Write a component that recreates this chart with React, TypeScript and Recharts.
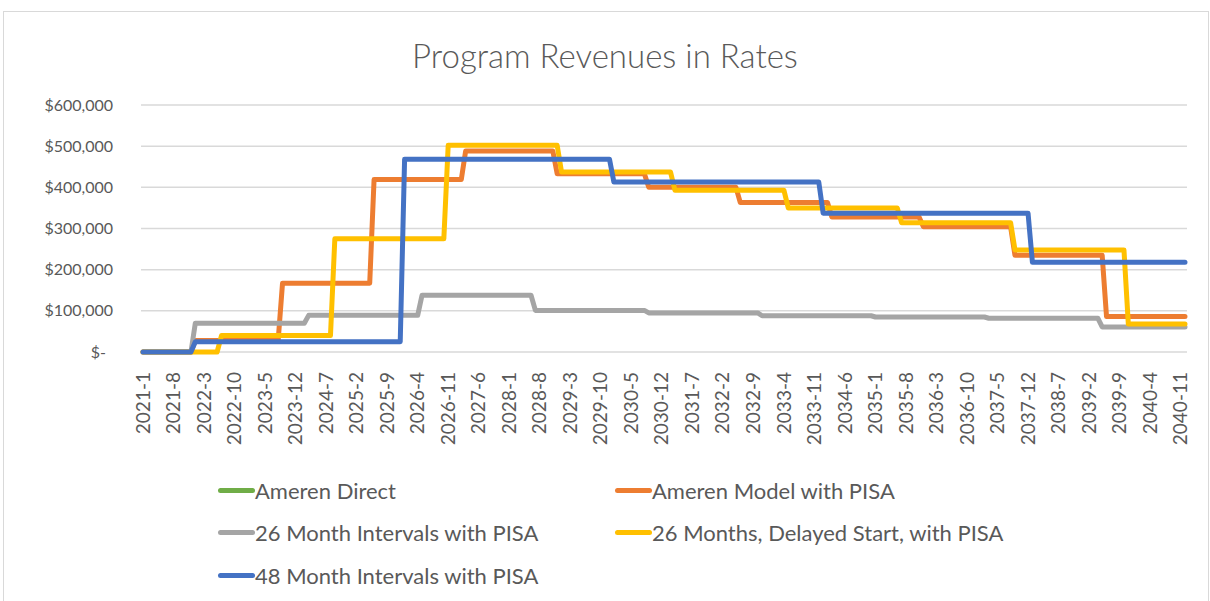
import { LineChart, Line, XAxis, YAxis, CartesianGrid } from 'recharts';

// month labels, 2021-1 .. 2040-12
const months: string[] = [];
for (let y = 2021; y <= 2040; y++) {
  for (let m = 1; m <= 12; m++) months.push(`${y}-${m}`);
}

const yTicks = [0, 100000, 200000, 300000, 400000, 500000, 600000];

// each series is a step: month index where a level starts, and the level
const amerenDirectStart: number[] = [];
const amerenDirectValue: number[] = [];

const amerenModelStart = [0, 12, 32, 53, 74, 95, 116, 137, 158, 179, 200, 221];
const amerenModelValue = [0, 28000, 167000, 419000, 488000, 433000, 400000, 363000, 328000, 304000, 235000, 86000];

const month26Start = [0, 12, 38, 64, 90, 116, 142, 168, 194, 220];
const month26Value = [0, 70000, 89000, 138000, 101000, 95000, 88000, 85000, 82000, 61000];

const delayedStart = [0, 18, 44, 70, 96, 122, 148, 174, 200, 226];
const delayedValue = [0, 40000, 275000, 502000, 437000, 393000, 350000, 314000, 248000, 68000];

const month48Start = [0, 12, 60, 108, 156, 204];
const month48Value = [0, 25000, 468000, 413000, 337000, 218000];

const levelAt = (starts: number[], values: number[], i: number) => {
  if (!starts.length) return null;
  let v = values[0];
  starts.forEach((s, k) => {
    if (i >= s) v = values[k];
  });
  return v;
};

const data = months.map((month, i) => ({
  month,
  direct: levelAt(amerenDirectStart, amerenDirectValue, i),
  model: levelAt(amerenModelStart, amerenModelValue, i),
  m26: levelAt(month26Start, month26Value, i),
  delayed: levelAt(delayedStart, delayedValue, i),
  m48: levelAt(month48Start, month48Value, i),
}));

const series = [
  { key: 'direct', name: 'Ameren Direct', color: '#70AD47' },
  { key: 'model', name: 'Ameren Model with PISA', color: '#ED7D31' },
  { key: 'm26', name: '26 Month Intervals with PISA', color: '#A5A5A5' },
  { key: 'delayed', name: '26 Months, Delayed Start, with PISA', color: '#FFC000' },
  { key: 'm48', name: '48 Month Intervals with PISA', color: '#4472C4' },
];

const FONT = 'Lato, sans-serif';
const TEXT = '#595959';

const money = (v: number) => (v === 0 ? '$-' : '$' + v.toLocaleString('en-US'));

const YTick = (props: any) => {
  const { x, y, payload } = props;
  const zero = payload.value === 0;
  return (
    <text x={zero ? x - 7 : x} y={y} dy='0.35em' textAnchor='end' fill={TEXT} fontSize={16} fontFamily={FONT}>
      {money(payload.value)}
    </text>
  );
};

const XTick = (props: any) => {
  const { x, y, payload } = props;
  const ty = y + 20;
  return (
    <text
      x={x}
      y={ty}
      dy='0.35em'
      textAnchor='end'
      transform={`rotate(-90, ${x}, ${ty})`}
      fill={TEXT}
      fontSize={19}
      fontFamily={FONT}>
      {payload.value}
    </text>
  );
};

const legendPos = [
  { left: 218, top: 490 },
  { left: 615, top: 490 },
  { left: 218, top: 532 },
  { left: 615, top: 532 },
  { left: 218, top: 575 },
];

export default function App() {
  return (
    <div style={{ position: 'absolute', left: 0, top: 0, width: 1210, height: 601, background: '#fff', overflow: 'hidden' }}>
      <div
        style={{
          position: 'absolute',
          left: 3,
          top: 11,
          width: 1204,
          height: 640,
          border: '1px solid #d9d9d9',
        }}
      />
      <div
        style={{
          position: 'absolute',
          left: 0,
          width: 1210,
          top: 35,
          textAlign: 'center',
          fontFamily: FONT,
          fontWeight: 300,
          fontSize: 33,
          color: TEXT,
        }}>
        Program Revenues in Rates
      </div>
      <div style={{ position: 'absolute', left: 0, top: 0 }}>
        <LineChart width={1210} height={601} data={data} margin={{ top: 105, right: 23, bottom: 0, left: 0 }}>
          <CartesianGrid vertical={false} stroke='#d9d9d9' strokeWidth={1.5} />
          <XAxis
            dataKey='month'
            interval={6}
            height={249}
            tickLine={false}
            tickSize={0}
            tickMargin={0}
            axisLine={false}
            padding={{ left: 2, right: 2 }}
            tick={<XTick />}
          />
          <YAxis
            domain={[0, 600000]}
            ticks={yTicks}
            width={141}
            tickLine={false}
            tickSize={0}
            tickMargin={28}
            axisLine={false}
            tick={<YTick />}
          />
          {series.map((s) => (
            <Line
              key={s.key}
              type='linear'
              dataKey={s.key}
              name={s.name}
              stroke={s.color}
              strokeWidth={5}
              strokeLinecap='round'
              strokeLinejoin='round'
              dot={false}
              activeDot={false}
              isAnimationActive={false}
            />
          ))}
        </LineChart>
      </div>
      {series.map((s, i) => (
        <div
          key={s.key}
          style={{
            position: 'absolute',
            left: legendPos[i].left,
            top: legendPos[i].top - 14,
            height: 28,
            display: 'flex',
            alignItems: 'center',
            fontFamily: FONT,
            fontSize: 22,
            color: TEXT,
            whiteSpace: 'nowrap',
          }}>
          <span style={{ display: 'inline-block', width: 37, height: 5, borderRadius: 3, background: s.color, marginRight: 0 }} />
          {s.name}
        </div>
      ))}
    </div>
  );
}
